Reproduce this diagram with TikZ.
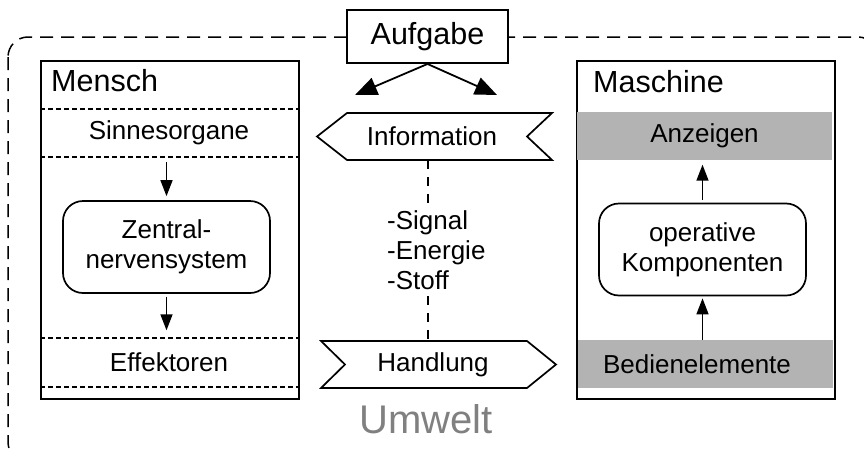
\documentclass[tikz,border=0pt]{standalone}
\usepackage{fontspec}
\setmainfont{Liberation Sans}
\usetikzlibrary{arrows.meta}
\definecolor{bandgray}{RGB}{179,179,179}
\definecolor{envgray}{RGB}{128,128,128}

\begin{document}
\begin{tikzpicture}[x=1pt,y=-1pt,
  frame/.style={draw, line width=1.9pt, inner sep=0pt},
  sep/.style={line width=1.2pt, dash pattern=on 5pt off 3pt},
  outer/.style={line width=1.5pt, dash pattern=on 13pt off 8pt, rounded corners=20pt},
  midline/.style={line width=1.3pt, dash pattern=on 9pt off 8pt},
  headfont/.style={font=\fontsize{30.5}{34}\selectfont},
  bodyfont/.style={font=\fontsize{26}{30}\selectfont},
  arr/.style={line width=1.5pt, -{Triangle[length=16pt,width=12pt]}},
  bigarr/.style={line width=1.8pt, -{Triangle[length=22pt,width=18pt]}},
  unit/.style={draw, line width=1.7pt, rounded corners=20pt, minimum width=207pt,
    minimum height=92pt, bodyfont, align=center, inner sep=0pt},
  band/.style={fill=bandgray, minimum width=255pt, minimum height=48pt, inner sep=0pt},
  plainband/.style={minimum width=258pt, minimum height=48pt, inner sep=0pt},
  flag/.style={draw, line width=1.7pt, fill=white, line join=miter},
]
\useasboundingbox (0,0) rectangle (864,450);

% environment boundary (runs past the page edge on the right and bottom)
\begin{scope}
  \clip (0,0) rectangle (864,450);
  \draw[outer] (8,37) rectangle (878,462);
\end{scope}

% task
\node[frame, fill=white, minimum width=161pt, minimum height=53pt, headfont] (task) at (427.5,36.5) {Aufgabe};
\coordinate (toHuman) at (355,95);
\coordinate (toMachine) at (497,95);
\draw[bigarr] (task.south) -- (toHuman);
\draw[bigarr] (task.south) -- (toMachine);

% human
\node[frame, minimum width=258pt, minimum height=338pt, anchor=north west] (human) at (40,60) {};
\node[headfont, anchor=base west, inner sep=0pt] (humanT) at (51,91) {Mensch};
\draw[sep] (40,109) -- (298,109);
\draw[sep] (40,157) -- (298,157);
\draw[sep] (40,338) -- (298,338);
\draw[sep] (40,387) -- (298,387);
\node[plainband, bodyfont] (sense) at (169,133) {Sinnesorgane};
\node[unit] (cns) at (166.5,247) {Zentral-\\nervensystem};
\node[plainband, bodyfont] (eff) at (169,362.5) {Effektoren};
\draw[arr, shorten <=5pt, shorten >=4pt] (sense.south -| cns.north) -- (cns.north);
\draw[arr, shorten <=3pt, shorten >=8pt] (cns.south) -- (eff.north -| cns.south);

% exchange between human and machine
\coordinate (infoB) at (428,160);
\coordinate (actT) at (428,341);
\draw[midline] (infoB) -- (actT);
\draw[flag] (317,136.5) -- (347,113) -- (552,113) -- (527,136.5) -- (552,160) -- (347,160) -- cycle;
\node[bodyfont] (info) at (432,136.5) {Information};
\draw[flag] (321,341) -- (527,341) -- (556,364.5) -- (527,388) -- (321,388) -- (345,364.5) -- cycle;
\node[bodyfont] (act) at (433,364.5) {Handlung};
\node[bodyfont, fill=white, align=left, anchor=north west, inner xsep=2pt, inner ysep=6pt] (flow) at (385,204) {-Signal\\-Energie\\-Stoff};

% environment label
\node[font=\fontsize{40}{44}\selectfont, text=envgray, anchor=base, inner sep=0pt] (env) at (426,433) {Umwelt};

% machine
\node[frame, minimum width=258pt, minimum height=338pt, anchor=north west] (machine) at (576,60) {};
\node[headfont, anchor=base west, inner sep=0pt] (machineT) at (593,92) {Maschine};
\node[band, bodyfont] (disp) at (704.5,135.5) {Anzeigen};
\node[unit] (ops) at (702.5,249.5) {operative\\Komponenten};
\node[band] (ctrl) at (705,364) {};
\node[bodyfont] (ctrlT) at (697,364) {Bedienelemente};
\draw[arr, shorten >=2pt] (ctrl.north -| ops.south) -- (ops.south);
\draw[arr, shorten <=3pt, shorten >=5pt] (ops.north) -- (disp.south -| ops.north);
\end{tikzpicture}
\end{document}
